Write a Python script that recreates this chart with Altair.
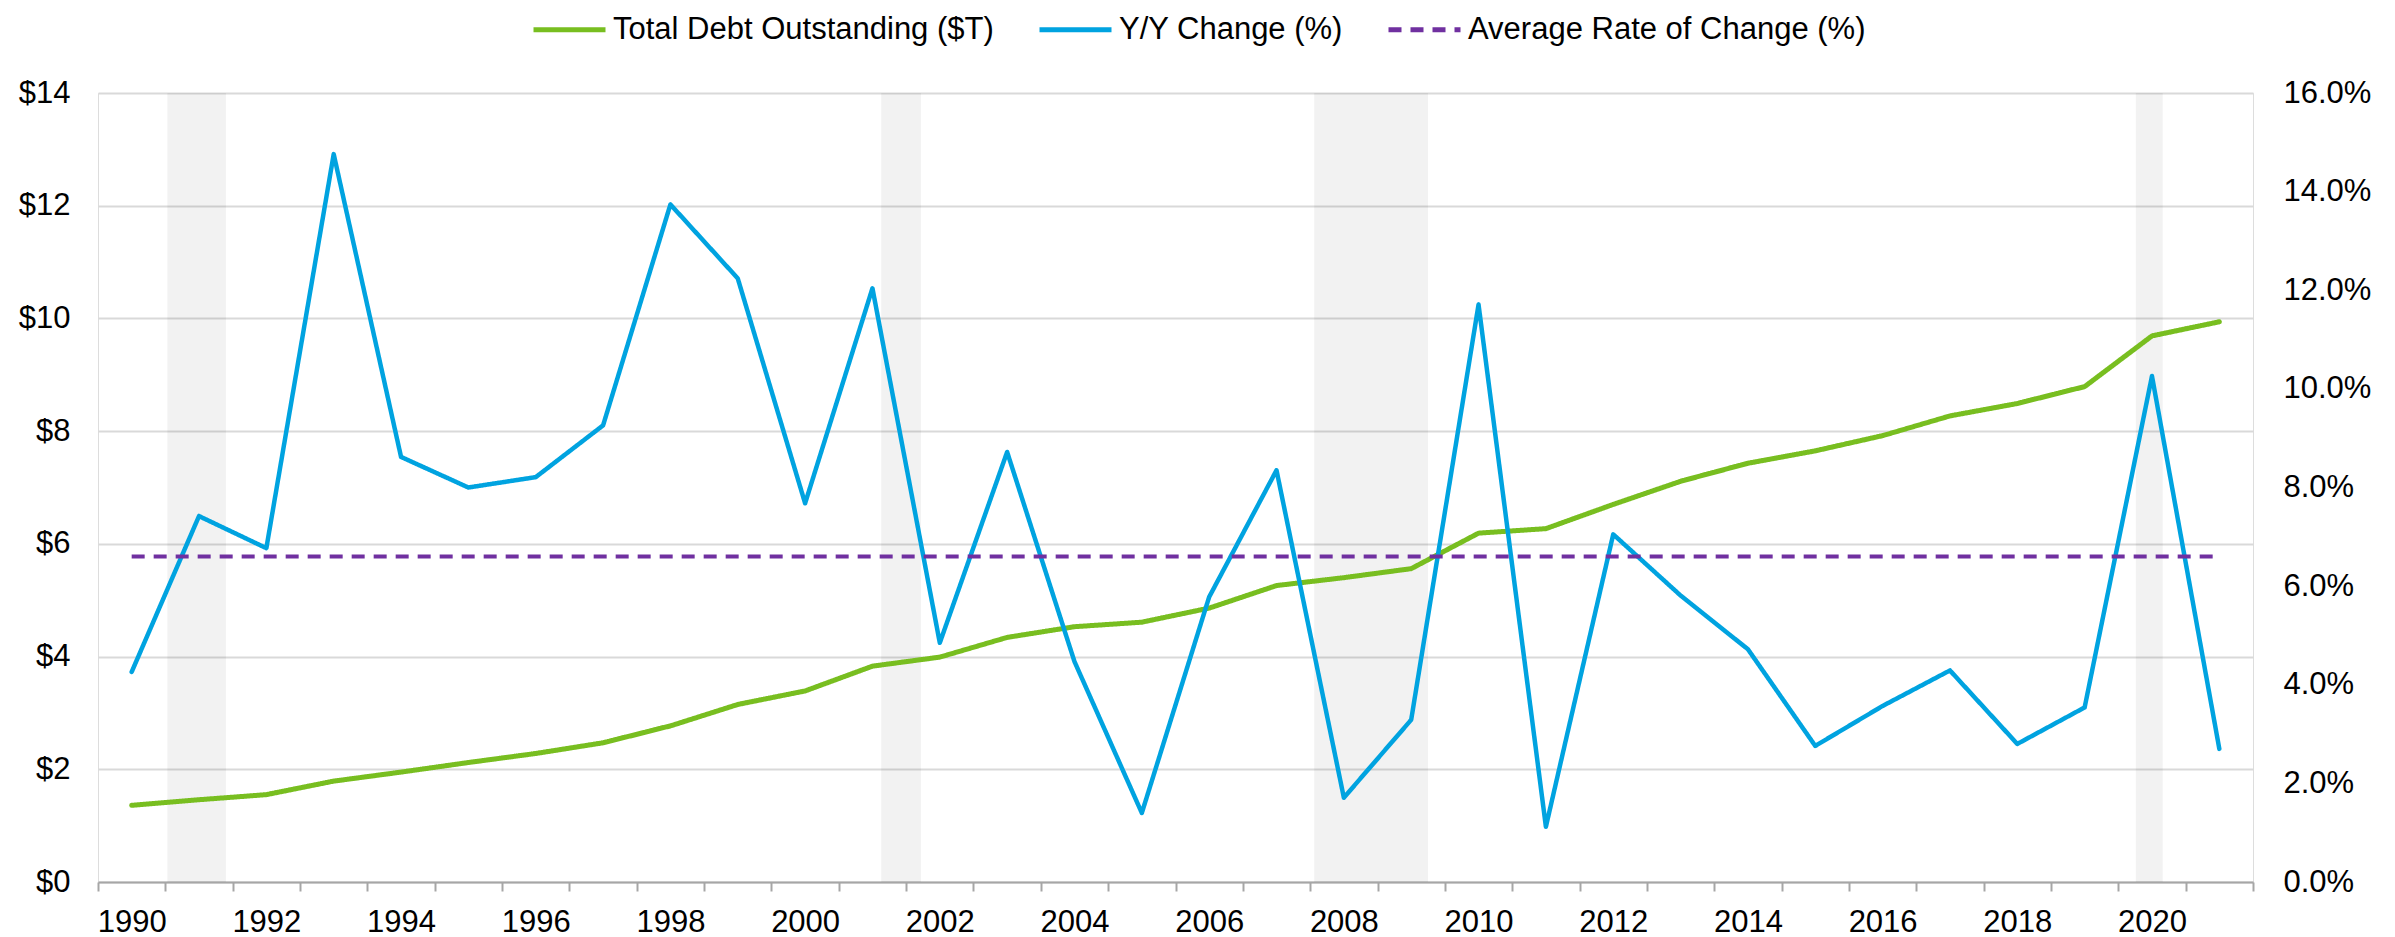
import altair as alt
import pandas as pd

# ---- data ----
years = list(range(1990, 2022))
debt = [1.36, 1.46, 1.55, 1.79, 1.95, 2.12, 2.28, 2.47, 2.77, 3.15, 3.39, 3.83,
        3.99, 4.34, 4.53, 4.61, 4.86, 5.26, 5.40, 5.56, 6.19, 6.27, 6.70, 7.11,
        7.43, 7.65, 7.92, 8.27, 8.49, 8.79, 9.69, 9.94]
yoy = [4.26, 7.42, 6.77, 14.76, 8.62, 8.00, 8.21, 9.26, 13.74, 12.24, 7.68, 12.04,
       4.85, 8.72, 4.47, 1.40, 5.78, 8.35, 1.71, 3.29, 11.71, 1.12, 7.05, 5.81,
       4.72, 2.76, 3.57, 4.29, 2.80, 3.54, 10.26, 2.70]
avg_rate = 6.6
rec_start = [1990.53, 2001.13, 2007.56, 2019.76]
rec_end = [1991.40, 2001.72, 2009.25, 2020.16]

S1 = "Total Debt Outstanding ($T)"
S2 = "Y/Y Change (%)"
S3 = "Average Rate of Change (%)"
series = [S1, S2, S3]
colors = ["#78BE20", "#00A3E0", "#7030A0"]
dashes = [[1, 0], [1, 0], [13, 9]]

left_ticks = [0, 2, 4, 6, 8, 10, 12, 14]
right_ticks = [0, 2, 4, 6, 8, 10, 12, 14, 16]

df_debt = pd.DataFrame({"year": years, "val": debt, "series": S1})
df_yoy = pd.DataFrame({"year": years, "val": yoy, "series": S2})
df_avg = pd.DataFrame({"x0": [years[0]], "x1": [years[-1]], "val": [avg_rate], "series": [S3]})
df_rec = pd.DataFrame({"start": rec_start, "end": rec_end})

W, H = 2155, 789
FONT = "Liberation Sans"

xscale = alt.Scale(domain=[years[0] - 0.5, years[-1] + 0.5], nice=False, zero=False)
label_expr = ("((datum.value + 0.5) % 2 == 0 && datum.value < " + str(years[-1]) +
              ") ? toString(datum.value + 0.5) : ''")
xaxis = alt.Axis(
    values=[years[0] - 0.5 + i for i in range(len(years) + 1)],
    labelExpr=label_expr,
    labelOffset=W / len(years) / 2,
    grid=False, domainColor="#a6a6a6", domainWidth=2,
    tickColor="#a6a6a6", tickWidth=2, tickSize=9,
    labelFontSize=31, labelFont=FONT, labelColor="#000000", labelPadding=16,
    labelFlush=False, labelOverlap=False, title=None,
)

lscale = alt.Scale(domain=[0, 14], nice=False)
laxis = alt.Axis(values=left_ticks, labelExpr="'$' + datum.value", grid=True,
                 gridColor="#d9d9d9", gridWidth=2, domain=False, ticks=False, tickSize=0,
                 labelFontSize=31, labelFont=FONT, labelColor="#000000", labelPadding=28,
                 title=None, orient="left")
rscale = alt.Scale(domain=[0, 16], nice=False)
raxis = alt.Axis(values=right_ticks, labelExpr="format(datum.value, '.1f') + '%'", grid=False,
                 domain=False, ticks=False, tickSize=0, labelAlign="left",
                 labelFontSize=31, labelFont=FONT, labelColor="#000000", labelPadding=30,
                 title=None, orient="right")

leg = alt.Legend(orient="none", legendX=433, legendY=-102, direction="horizontal", title=None,
                 symbolType="stroke", symbolSize=5184, symbolStrokeWidth=5,
                 labelFontSize=31, labelFont=FONT, labelColor="#000000", labelLimit=0,
                 columnPadding=35, labelOffset=5)
color = alt.Color("series:N", scale=alt.Scale(domain=series, range=colors), legend=leg)
dash = alt.StrokeDash("series:N", scale=alt.Scale(domain=series, range=dashes), legend=leg)

shade = alt.Chart(df_rec).mark_rect(color="#000000", opacity=0.05).encode(
    x=alt.X("start:Q", scale=xscale, axis=xaxis), x2="end:Q")

green = alt.Chart(df_debt).mark_line(strokeWidth=5, strokeJoin="round", strokeCap="round").encode(
    x=alt.X("year:Q", scale=xscale, axis=xaxis),
    y=alt.Y("val:Q", scale=lscale, axis=laxis),
    color=color, strokeDash=dash)

blue = alt.Chart(df_yoy).mark_line(strokeWidth=4.5, strokeJoin="round", strokeCap="round").encode(
    x=alt.X("year:Q", scale=xscale, axis=xaxis),
    y=alt.Y("val:Q", scale=rscale, axis=raxis),
    color=color, strokeDash=dash)

avg = alt.Chart(df_avg).mark_rule(strokeWidth=4).encode(
    x=alt.X("x0:Q", scale=xscale, axis=xaxis), x2="x1:Q",
    y=alt.Y("val:Q", scale=rscale, axis=raxis),
    color=color, strokeDash=dash)

left_layer = alt.layer(shade, green)
right_layer = alt.layer(blue, avg)

chart = alt.layer(left_layer, right_layer).resolve_scale(y="independent").properties(
    width=W, height=H,
    autosize=alt.AutoSizeParams(type="none"),
    padding={"left": 90, "top": 85, "right": 130, "bottom": 58},
).configure_view(stroke=None).configure(font=FONT, background="#ffffff")

chart.save("out.html", embed_options={"renderer": "svg", "actions": False})
